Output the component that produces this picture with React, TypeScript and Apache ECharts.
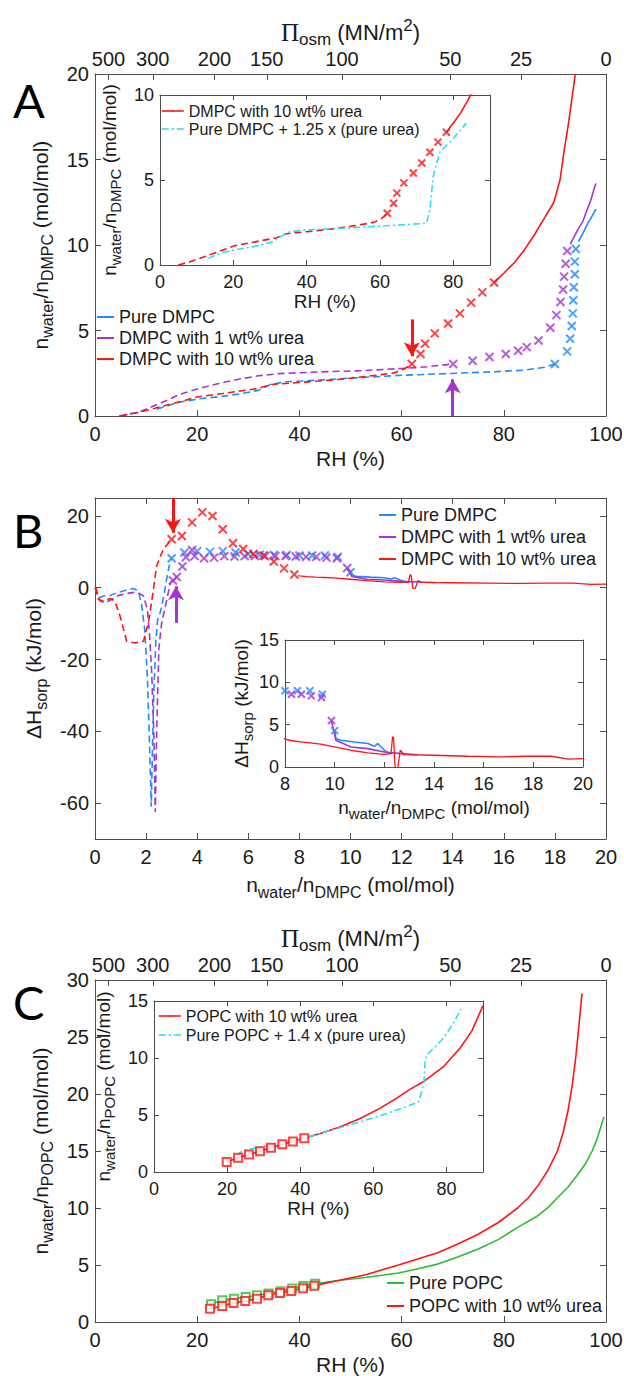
import React, { useEffect, useRef } from 'react';
import * as echarts from 'echarts';

// ---------------- data ----------------
const OSM_TICKS = [500, 300, 200, 150, 100, 50, 25, 0];
const RT_OVER_VW = 137.6; // MN/m^2 (RT / molar volume of water)
const OSM_RH = OSM_TICKS.map((p) => 100 * Math.exp(-p / RT_OVER_VW));

// Panel A (x: RH %, y: n_water/n_DMPC)
const aBlueDash = [[12.1, 0.4], [16.4, 0.8], [20.3, 1.0], [25, 1.15], [28, 1.28], [32, 1.5], [34.4, 1.85], [37.5, 2.0], [44, 2.1], [52, 2.25], [60, 2.38], [68, 2.47], [76, 2.56], [84, 2.68], [88, 2.85], [90, 3.04]];
const aBlueX = [[90.0, 3.04], [92.4, 3.78], [93.0, 4.52], [93.3, 5.26], [93.5, 6.0], [93.6, 6.77], [93.7, 7.53], [93.9, 8.29], [93.9, 9.03], [94.1, 9.77]];
const aBlueSolid = [[94.6, 10.2], [95.5, 10.7], [96.5, 11.3], [97.3, 11.7], [98, 12.1]];
const aPurpleDash = [[4.7, 0], [8.6, 0.23], [11.7, 0.62], [14.1, 0.92], [16.4, 1.25], [20.3, 1.6], [24.2, 1.9], [28.1, 2.15], [32, 2.35], [36, 2.48], [44, 2.58], [52, 2.65], [60, 2.78], [65, 2.88], [70, 3.04]];
const aPurpleX = [[70.1, 3.04], [73.9, 3.23], [77.2, 3.45], [80.4, 3.63], [82.8, 3.82], [84.5, 4.03], [86.8, 4.42], [89.1, 5.16], [90.3, 5.9], [91.1, 6.67], [91.6, 7.4], [91.8, 8.15], [92.1, 8.9], [92.4, 9.65]];
const aPurpleSolid = [[93, 10.05], [94.5, 10.9], [95.5, 11.4], [96.1, 11.9], [97, 12.6], [98, 13.6]];
const aRedDash = [[5, 0], [8, 0.18], [11.7, 0.45], [16.4, 0.82], [20.3, 1.13], [25, 1.32], [28, 1.45], [31.8, 1.6], [34.5, 1.84], [40, 1.96], [44, 2.05], [48, 2.15], [52.7, 2.3], [56, 2.42], [58.5, 2.52], [60.5, 2.75], [62, 3.04]];
const aRedX = [[62, 3.04], [63.7, 3.63], [64.6, 4.23], [66.5, 4.83], [69.1, 5.41], [71.4, 6.0], [73.6, 6.63], [75.8, 7.23], [78.1, 7.81]];
const aRedSolid = [[78.1, 7.81], [80, 8.35], [82, 8.95], [84, 9.7], [86, 10.6], [88, 11.6], [89.8, 12.5], [91, 13.8], [91.8, 15.5], [92.6, 17], [93.3, 18.5], [94, 20]];
const aCyanInset = [[13.2, 0.39], [16.4, 0.69], [20, 0.88], [25.5, 1.08], [30.9, 1.37], [33.6, 1.76], [35.5, 1.96], [40, 2.06], [52.7, 2.2], [61.8, 2.31], [72.7, 2.45], [73.6, 3.24], [74.5, 5.2], [75.3, 5.88], [76.4, 6.67], [79.6, 7.35], [83.5, 8.33]];
const aArrows = [{ x: 62, from: 5.65, to: 3.5 }, { x: 70, from: 0, to: 2.15 }];

// Panel B (x: n_water/n_DMPC, y: dH_sorp kJ/mol)
const bBlueDash = [[0, 0], [0.13, -2.8], [0.33, -2.3], [0.59, -2.2], [0.85, -1.4], [1.11, -0.9], [1.3, -0.5], [1.5, -0.2], [1.7, -0.9], [1.83, -5], [1.95, -12], [2.05, -25], [2.12, -40], [2.18, -55], [2.2, -61], [2.25, -45], [2.3, -30], [2.38, -15], [2.45, -9], [2.55, -7], [2.7, -2], [2.8, 2.3], [2.9, 6], [3.0, 8.2]];
const bPurpleDash = [[0, 0], [0.04, -0.5], [0.2, -3.7], [0.39, -4.2], [0.65, -3.3], [0.91, -2.2], [1.24, -1.6], [1.63, -1.2], [1.9, -2.3], [2.05, -6.1], [2.13, -12.6], [2.22, -23.7], [2.3, -40], [2.36, -62.5], [2.4, -45], [2.44, -33], [2.5, -17], [2.61, -9.8], [2.81, -3.3], [2.95, 1.4], [3.05, 2.0]];
const bRedDash = [[0, 0], [0.04, -0.2], [0.13, -3.3], [0.33, -3.7], [0.59, -3.0], [0.78, -3.7], [0.98, -7.9], [1.24, -14.9], [1.57, -15.4], [1.9, -14.9], [2.0, -12], [2.09, -9.8], [2.23, -3.3], [2.41, 6], [2.67, 10.7], [3.0, 13.5]];
const bBlueX = [[3.0, 8.2], [3.5, 9.8], [4.0, 10.2], [4.5, 10.0], [5.0, 10.2], [5.5, 9.8], [6.0, 9.4], [6.45, 9.2], [7.0, 9.1], [7.5, 9.1], [8.0, 9.0], [8.5, 9.0], [9.0, 9.0], [9.5, 8.6], [10.0, 4.3]];
const bPurpleX = [[3.05, 2.0], [3.2, 3.0], [3.42, 5.9], [3.56, 8.5], [3.8, 10.5], [3.9, 8.8], [4.27, 8.2], [4.66, 8.4], [5.06, 8.8], [5.46, 8.7], [5.86, 8.8], [6.26, 8.8], [6.66, 8.8], [7.06, 8.8], [7.46, 8.8], [7.86, 8.7], [8.26, 8.6], [8.66, 8.6], [9.06, 8.4], [9.47, 8.2], [9.87, 5.5]];
const bRedX = [[3.0, 13.5], [3.4, 14.4], [3.8, 18.2], [4.2, 21.0], [4.6, 20.0], [5.0, 16.3], [5.4, 12.4], [5.8, 10.8], [6.2, 9.4], [6.6, 9.0], [7.0, 7.3], [7.4, 5.4], [7.8, 3.7]];
const bBlueSolid = [[10.0, 4.3], [10.05, 3.36], [10.25, 3.16], [10.78, 2.96], [11.33, 2.77], [11.6, 2.45], [11.73, 2.77], [12.0, 1.98], [12.13, 1.7], [12.3, 1.6]];
const bPurpleSolid = [[9.87, 5.5], [10.05, 3.16], [10.65, 2.37], [11.33, 2.17], [12.0, 1.78], [12.67, 1.58], [13.33, 1.45]];
const bRedSolid = [[7.95, 3.4], [8.0, 3.28], [8.3, 3.1], [8.63, 2.96], [9.0, 2.85], [9.44, 2.69], [9.98, 2.37], [10.65, 1.98], [11.33, 1.66], [12.0, 1.5], [12.27, 1.58], [12.33, 3.55], [12.37, 3.5], [12.44, -0.2], [12.54, -0.1], [12.64, 1.98], [12.8, 1.47], [14.0, 1.39], [15.36, 1.27], [16.7, 1.19], [17.65, 1.27], [18.72, 1.27], [19.4, 0.92], [20, 0.99]];
const bArrows = [{ x: 3.05, from: 25, to: 15.3 }, { x: 3.17, from: -9.8, to: 0.4 }];

// Panel C (x: RH %, y: n_water/n_POPC)
const cGreenSq = [[22.7, 1.55], [24.9, 1.9], [27.2, 2.05], [29.5, 2.2], [31.7, 2.34], [34.0, 2.49], [36.3, 2.69], [38.6, 2.93], [40.8, 3.16], [43.1, 3.36]];
const cRedSq = [[22.5, 1.17], [24.9, 1.41], [27.1, 1.67], [29.4, 1.85], [31.7, 2.05], [33.9, 2.34], [36.2, 2.54], [38.4, 2.72], [40.7, 2.96], [42.9, 3.19]];
const cGreenLine = [[22.7, 1.55], [24.9, 1.9], [27.2, 2.05], [29.5, 2.2], [31.7, 2.34], [34, 2.49], [36.3, 2.69], [38.6, 2.93], [40.8, 3.16], [43.1, 3.36], [47.9, 3.66], [53, 3.9], [59.4, 4.3], [63, 4.65], [67.2, 5.1], [71, 5.7], [75, 6.4], [79, 7.25], [82.7, 8.3], [86.6, 9.3], [88.8, 10.1], [90.5, 10.9], [92.5, 11.8], [94.4, 12.9], [96, 13.9], [97.3, 15.0], [98.2, 16.0], [98.9, 17.0], [99.6, 18.0]];
const cRedLine = [[22.5, 1.17], [24.9, 1.41], [27.1, 1.67], [29.4, 1.85], [31.7, 2.05], [33.9, 2.34], [36.2, 2.54], [38.4, 2.72], [40.7, 2.96], [42.9, 3.19], [47.9, 3.66], [53, 4.15], [59.4, 5.0], [63, 5.5], [67.2, 6.1], [71, 6.85], [75, 7.7], [79, 8.75], [82.7, 10.0], [84.8, 10.9], [86.6, 11.9], [88.5, 13.2], [90.5, 15.0], [91.6, 16.6], [92.6, 18.6], [93.4, 20.8], [94.1, 23.3], [94.7, 26.0], [95.3, 28.8]];
const cInRedSq = [[19.9, 0.88], [23.0, 1.24], [26.0, 1.53], [29.0, 1.82], [32.0, 2.12], [35.1, 2.44], [38.0, 2.68], [41.1, 2.97]];
const cInRedLine = [[19.9, 0.88], [23, 1.24], [26, 1.53], [29, 1.82], [32, 2.12], [35.1, 2.44], [38, 2.68], [41.1, 2.97], [45.5, 3.38], [51, 3.97], [56.4, 4.7], [61.9, 5.6], [66.5, 6.5], [70, 7.25], [73.8, 7.94], [79.3, 9.27], [83.8, 10.9], [87, 12.4], [90, 14.6]];
const cInCyan = [[22.5, 1.47], [24.7, 1.91], [29, 2.2], [34.5, 2.5], [41.1, 3.0], [45.5, 3.38], [50, 3.8], [57.4, 4.5], [62, 4.95], [66.5, 5.44], [70, 5.85], [72.5, 6.18], [73.8, 7.8], [74.2, 9.86], [74.7, 10.3], [77, 11.0], [79.3, 11.8], [82, 13.1], [84, 14.3]];

// ---------------- style ----------------
const BLUE = '#1e8cff';
const PURPLE = '#a534d4';
const RED = '#ff1414';
const CYAN = '#27e1f0';
const GREEN = '#2dbd2d';
const AX = '#4d4d4d';
const TXT = '#1a1a1a';
const FONT = '"Liberation Sans", Arial, Helvetica, sans-serif';
const SERIF = '"Liberation Serif", "DejaVu Serif", serif';
const DASH = [7, 4];
const DASHDOT = [7, 3, 2, 3];
const CROSS = 'path://M0,0L10,10M10,0L0,10';

const rich = (fs: number, sfs: number) => ({
  a: { fontSize: fs, fontFamily: FONT, color: TXT, verticalAlign: 'middle' },
  s: { fontSize: sfs, fontFamily: FONT, color: TXT, verticalAlign: 'middle', padding: [Math.round(fs * 0.7), 0, 0, 0] },
  p: { fontSize: fs + 3, fontFamily: SERIF, color: TXT, verticalAlign: 'middle' },
  u: { fontSize: sfs, fontFamily: FONT, color: TXT, verticalAlign: 'middle', padding: [0, 0, Math.round(fs * 0.6), 0] },
});

const NW_DMPC = '{a|n}{s|water}{a|/n}{s|DMPC}{a| (mol/mol)}';
const NW_POPC = '{a|n}{s|water}{a|/n}{s|POPC}{a| (mol/mol)}';
const DH = '{a|ΔH}{s|sorp}{a| (kJ/mol)}';
const PI_OSM = '{p|Π}{s|osm}{a| (MN/m}{u|2}{a|)}';

function axis(o: any) {
  const custom = o.custom ? { customValues: o.custom } : {};
  return {
    type: 'value',
    gridIndex: o.grid,
    position: o.pos,
    min: o.min,
    max: o.max,
    ...(o.interval ? { interval: o.interval } : {}),
    axisLine: { show: true, onZero: false, lineStyle: { color: AX, width: 1 } },
    axisTick: { show: true, inside: true, length: o.tickLen || 6, lineStyle: { color: AX, width: 1 }, ...custom },
    axisLabel: {
      show: !!o.label,
      color: TXT,
      fontSize: o.fs || 20,
      fontFamily: FONT,
      margin: o.margin || 6,
      showMinLabel: true,
      showMaxLabel: o.hideMax ? false : true,
      hideOverlap: false,
      ...custom,
      ...(o.fmt ? { formatter: o.fmt } : {}),
    },
    splitLine: { show: false },
    ...(o.name
      ? {
          name: o.name,
          nameLocation: 'middle',
          nameGap: o.nameGap,
          nameRotate: o.nameRotate || 0,
          nameTextStyle: { fontSize: o.nfs || 21, fontFamily: FONT, color: TXT, rich: rich(o.nfs || 21, o.nsfs || 16) },
        }
      : {}),
  };
}

const osmFmt = (v: number) => {
  const i = OSM_RH.findIndex((p) => Math.abs(p - v) < 1e-6);
  return i >= 0 ? String(OSM_TICKS[i]) : '';
};

function line(name: string, data: any, xi: number, yi: number, color: string, type: any, extra: any = {}) {
  return {
    type: 'line', name, data, xAxisIndex: xi, yAxisIndex: yi, symbol: 'none', silent: true, clip: true,
    lineStyle: { color, width: 1.6, type }, itemStyle: { color }, z: 3, ...extra,
  };
}
function cross(name: string, data: any, xi: number, yi: number, color: string, size = 8) {
  return {
    type: 'scatter', name, data, xAxisIndex: xi, yAxisIndex: yi, symbol: CROSS, symbolSize: size, silent: true, clip: true,
    itemStyle: { color, borderColor: color, borderWidth: 2 }, z: 4,
  };
}
function square(name: string, data: any, xi: number, yi: number, color: string, size = 8) {
  return {
    type: 'scatter', name, data, xAxisIndex: xi, yAxisIndex: yi, symbol: 'emptyRect', symbolSize: size, silent: true, clip: true,
    itemStyle: { color, borderColor: color, borderWidth: 1.4 }, z: 4,
  };
}
function arrows(list: any[], color: string) {
  return {
    silent: true,
    symbol: ['none', 'arrow'],
    symbolSize: [12, 14],
    label: { show: false },
    lineStyle: { color, width: 3, type: 'solid' },
    data: list.map((a) => [{ coord: [a.x, a.from] }, { coord: [a.x, a.to] }]),
  };
}

const legendBase = (o: any) => ({
  show: true,
  orient: 'vertical',
  left: o.left,
  top: o.top,
  padding: 0,
  itemGap: o.gap,
  itemWidth: o.iw || 17,
  itemHeight: 2,
  selectedMode: false,
  data: o.data,
  lineStyle: o.keepDash ? { width: 1.6 } : { type: 'solid', width: 2 },
  textStyle: { fontSize: o.fs || 18, fontFamily: FONT, color: TXT },
});

const option: any = {
  animation: false,
  backgroundColor: '#fff',
  grid: [
    { left: 95, top: 74, width: 511, height: 342, outerBoundsMode: 'none', containLabel: false },
    { left: 160, top: 95, width: 330, height: 170, outerBoundsMode: 'none', containLabel: false },
    { left: 95, top: 498, width: 511, height: 341, outerBoundsMode: 'none', containLabel: false },
    { left: 285, top: 640, width: 298, height: 127, outerBoundsMode: 'none', containLabel: false },
    { left: 95, top: 980, width: 511, height: 342, outerBoundsMode: 'none', containLabel: false },
    { left: 154, top: 1001, width: 329, height: 171, outerBoundsMode: 'none', containLabel: false },
  ],
  xAxis: [
    axis({ grid: 0, pos: 'bottom', min: 0, max: 100, interval: 20, label: true, margin: 8, name: '{a|RH (%)}', nameGap: 32 }),
    axis({ grid: 0, pos: 'top', min: 0, max: 100, label: true, custom: OSM_RH, fmt: osmFmt, margin: 5, name: PI_OSM, nameGap: 26, nfs: 22, nsfs: 17 }),
    axis({ grid: 1, pos: 'bottom', min: 0, max: 90, interval: 20, label: true, hideMax: true, fs: 18, tickLen: 5, margin: 8, name: '{a|RH (%)}', nameGap: 27, nfs: 19, nsfs: 15 }),
    axis({ grid: 1, pos: 'top', min: 0, max: 90, interval: 20, tickLen: 5 }),
    axis({ grid: 2, pos: 'bottom', min: 0, max: 20, interval: 2, label: true, margin: 8, name: NW_DMPC, nameGap: 30 }),
    axis({ grid: 2, pos: 'top', min: 0, max: 20, interval: 2 }),
    axis({ grid: 3, pos: 'bottom', min: 8, max: 20, interval: 2, label: true, fs: 18, tickLen: 5, margin: 8, name: NW_DMPC, nameGap: 26, nfs: 19, nsfs: 15 }),
    axis({ grid: 3, pos: 'top', min: 8, max: 20, interval: 2, tickLen: 5 }),
    axis({ grid: 4, pos: 'bottom', min: 0, max: 100, interval: 20, label: true, margin: 8, name: '{a|RH (%)}', nameGap: 32 }),
    axis({ grid: 4, pos: 'top', min: 0, max: 100, label: true, custom: OSM_RH, fmt: osmFmt, margin: 5, name: PI_OSM, nameGap: 26, nfs: 22, nsfs: 17 }),
    axis({ grid: 5, pos: 'bottom', min: 0, max: 90, interval: 20, label: true, hideMax: true, fs: 18, tickLen: 5, margin: 8, name: '{a|RH (%)}', nameGap: 27, nfs: 19, nsfs: 15 }),
    axis({ grid: 5, pos: 'top', min: 0, max: 90, interval: 20, tickLen: 5 }),
  ],
  yAxis: [
    axis({ grid: 0, pos: 'left', min: 0, max: 20, interval: 5, label: true, name: NW_DMPC, nameGap: 30, nameRotate: 90 }),
    axis({ grid: 0, pos: 'right', min: 0, max: 20, interval: 5 }),
    axis({ grid: 1, pos: 'left', min: 0, max: 10, interval: 5, label: true, fs: 18, tickLen: 5, name: NW_DMPC, nameGap: 20, nameRotate: 90, nfs: 19, nsfs: 15 }),
    axis({ grid: 1, pos: 'right', min: 0, max: 10, interval: 5, tickLen: 5 }),
    axis({ grid: 2, pos: 'left', min: -70, max: 25, label: true, custom: [-60, -40, -20, 0, 20], name: DH, nameGap: 38, nameRotate: 90 }),
    axis({ grid: 2, pos: 'right', min: -70, max: 25, custom: [-60, -40, -20, 0, 20] }),
    axis({ grid: 3, pos: 'left', min: 0, max: 15, interval: 5, label: true, fs: 18, tickLen: 5, name: DH, nameGap: 28, nameRotate: 90, nfs: 19, nsfs: 15 }),
    axis({ grid: 3, pos: 'right', min: 0, max: 15, interval: 5, tickLen: 5 }),
    axis({ grid: 4, pos: 'left', min: 0, max: 30, interval: 5, label: true, name: NW_POPC, nameGap: 30, nameRotate: 90 }),
    axis({ grid: 4, pos: 'right', min: 0, max: 30, interval: 5 }),
    axis({ grid: 5, pos: 'left', min: 0, max: 15, interval: 5, label: true, fs: 18, tickLen: 5, name: NW_POPC, nameGap: 20, nameRotate: 90, nfs: 19, nsfs: 15 }),
    axis({ grid: 5, pos: 'right', min: 0, max: 15, interval: 5, tickLen: 5 }),
  ],
  legend: [
    legendBase({ left: 96, top: 308, gap: 3, data: ['Pure DMPC', 'DMPC with 1 wt% urea', 'DMPC with 10 wt% urea'] }),
    legendBase({ left: 161, top: 103, gap: 2, iw: 22, fs: 16, keepDash: true, data: ['DMPC with 10 wt% urea', 'Pure DMPC + 1.25 x (pure urea)'] }),
    legendBase({ left: 378, top: 506, gap: 4, data: ['Pure DMPC', 'DMPC with 1 wt% urea', 'DMPC with 10 wt% urea'] }),
    legendBase({ left: 386, top: 1274, gap: 5, data: ['Pure POPC', 'POPC with 10 wt% urea'] }),
    legendBase({ left: 158, top: 1008, gap: 3, iw: 22, fs: 16, keepDash: true, data: ['POPC with 10 wt% urea', 'Pure POPC + 1.4 x (pure urea)'] }),
  ],
  graphic: [
    { type: 'text', left: 13, top: 76, style: { text: 'A', fontSize: 47, fontFamily: 'Lato, "Liberation Sans", sans-serif', fill: '#000' } },
    { type: 'text', left: 13, top: 506, style: { text: 'B', fontSize: 47, fontFamily: 'Lato, "Liberation Sans", sans-serif', fill: '#000' } },
    { type: 'text', left: 13, top: 978, style: { text: 'C', fontSize: 47, fontFamily: 'Lato, "Liberation Sans", sans-serif', fill: '#000' } },
  ],
  series: [
    // Panel A main
    line('Pure DMPC', aBlueSolid, 0, 0, BLUE, 'solid'),
    line('DMPC with 1 wt% urea', aPurpleSolid, 0, 0, PURPLE, 'solid'),
    line('DMPC with 10 wt% urea', aRedSolid, 0, 0, RED, 'solid', { markLine: arrows([aArrows[0]], RED) }),
    line('Pure DMPC', aBlueDash, 0, 0, BLUE, DASH),
    line('DMPC with 1 wt% urea', aPurpleDash, 0, 0, PURPLE, DASH, { markLine: arrows([aArrows[1]], PURPLE) }),
    line('DMPC with 10 wt% urea', aRedDash, 0, 0, RED, DASH),
    cross('Pure DMPC', aBlueX, 0, 0, BLUE),
    cross('DMPC with 1 wt% urea', aPurpleX, 0, 0, PURPLE),
    cross('DMPC with 10 wt% urea', aRedX, 0, 0, RED),
    // Panel A inset
    line('DMPC with 10 wt% urea', aRedSolid, 2, 2, RED, 'solid'),
    line('DMPC with 10 wt% urea', aRedDash, 2, 2, RED, DASH),
    cross('DMPC with 10 wt% urea', aRedX, 2, 2, RED, 7),
    line('Pure DMPC + 1.25 x (pure urea)', aCyanInset, 2, 2, CYAN, DASHDOT),
    // Panel B main
    line('Pure DMPC', bBlueSolid, 4, 4, BLUE, 'solid'),
    line('DMPC with 1 wt% urea', bPurpleSolid, 4, 4, PURPLE, 'solid'),
    line('DMPC with 10 wt% urea', bRedSolid, 4, 4, RED, 'solid', { lineStyle: { color: RED, width: 1.3 } }),
    line('Pure DMPC', bBlueDash, 4, 4, BLUE, DASH),
    line('DMPC with 1 wt% urea', bPurpleDash, 4, 4, PURPLE, DASH, { markLine: arrows([bArrows[1]], PURPLE) }),
    line('DMPC with 10 wt% urea', bRedDash, 4, 4, RED, DASH, { markLine: arrows([bArrows[0]], RED) }),
    cross('Pure DMPC', bBlueX, 4, 4, BLUE),
    cross('DMPC with 1 wt% urea', bPurpleX, 4, 4, PURPLE),
    cross('DMPC with 10 wt% urea', bRedX, 4, 4, RED),
    // Panel B inset
    line('Pure DMPC', bBlueSolid, 6, 6, BLUE, 'solid'),
    line('DMPC with 1 wt% urea', bPurpleSolid, 6, 6, PURPLE, 'solid'),
    line('DMPC with 10 wt% urea', bRedSolid, 6, 6, RED, 'solid', { lineStyle: { color: RED, width: 1.3 } }),
    cross('Pure DMPC', bBlueX, 6, 6, BLUE, 7),
    cross('DMPC with 1 wt% urea', bPurpleX, 6, 6, PURPLE, 7),
    // Panel C main
    line('Pure POPC', cGreenLine, 8, 8, GREEN, 'solid'),
    line('POPC with 10 wt% urea', cRedLine, 8, 8, RED, 'solid'),
    square('Pure POPC', cGreenSq, 8, 8, GREEN),
    square('POPC with 10 wt% urea', cRedSq, 8, 8, RED),
    // Panel C inset
    line('POPC with 10 wt% urea', cInRedLine, 10, 10, RED, 'solid'),
    square('POPC with 10 wt% urea', cInRedSq, 10, 10, RED),
    line('Pure POPC + 1.4 x (pure urea)', cInCyan, 10, 10, CYAN, DASHDOT),
  ],
};

export default function App() {
  const ref = useRef<HTMLDivElement>(null);
  useEffect(() => {
    if (!ref.current) return;
    const chart = echarts.init(ref.current, null, { renderer: 'svg', width: 624, height: 1376 });
    chart.setOption(option);
    return () => chart.dispose();
  }, []);
  return <div ref={ref} style={{ position: 'fixed', left: 0, top: 0, width: 624, height: 1376, background: '#fff' }} />;
}
